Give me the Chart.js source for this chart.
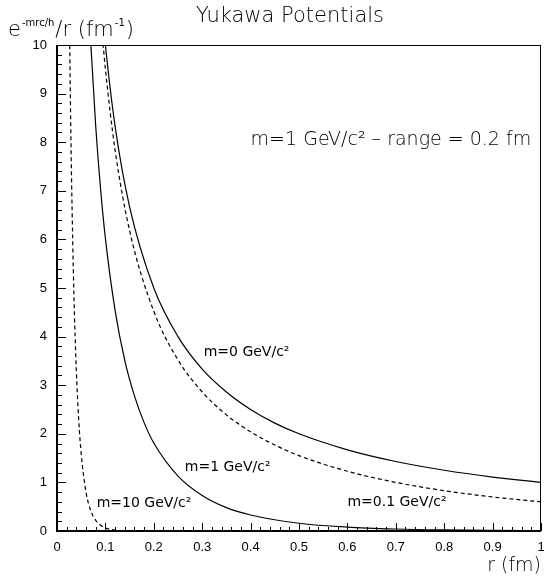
<!DOCTYPE html>
<html>
<head>
<meta charset="utf-8">
<script src="https://cdn.jsdelivr.net/npm/chart.js@4.4.1/dist/chart.umd.min.js"></script>
<style>
  html, body { margin: 0; padding: 0; background: #fff; overflow: hidden; }
  #wrap { width: 546px; height: 577px; }
</style>
</head>
<body>
<div id="wrap"><canvas id="chart"></canvas></div>
<script>
/* ── Yukawa potentials e^(-mrc/h)/r ── */

// m = 0 GeV/c2 (solid)
const R_M0 = [0.09, 0.10, 0.12, 0.15, 0.20, 0.25, 0.30, 0.35, 0.40, 0.45, 0.50, 0.60, 0.70, 0.80, 0.90, 1.00];
const V_M0 = [11.1, 10.0, 8.33, 6.67, 5.00, 4.00, 3.33, 2.86, 2.50, 2.22, 2.00, 1.67, 1.43, 1.25, 1.11, 1.00];

// m = 0.1 GeV/c2 (dashed)
const R_M01 = [0.09, 0.10, 0.12, 0.15, 0.20, 0.25, 0.30, 0.35, 0.40, 0.45, 0.50, 0.60, 0.70, 0.80, 0.90, 1.00];
const V_M01 = [10.6, 9.51, 7.84, 6.18, 4.52, 3.52, 2.86, 2.39, 2.04, 1.77, 1.55, 1.23, 1.00, 0.83, 0.70, 0.60];

// m = 1 GeV/c2 (solid)
const R_M1 = [0.065, 0.07, 0.08, 0.09, 0.10, 0.12, 0.14, 0.16, 0.18, 0.20, 0.25, 0.30, 0.35, 0.40, 0.50, 0.60, 0.70, 0.80, 0.90, 1.00];
const V_M1 = [11.1, 10.0, 8.33, 7.04, 6.02, 4.54, 3.51, 2.78, 2.23, 1.81, 1.13, 0.73, 0.48, 0.33, 0.16, 0.080, 0.041, 0.022, 0.012, 0.006];

// m = 10 GeV/c2 (dashed)
const R_M10 = [0.024, 0.026, 0.028, 0.030, 0.035, 0.040, 0.045, 0.050, 0.060, 0.070, 0.080, 0.090, 0.100, 0.120];
const V_M10 = [12.3, 10.3, 8.63, 7.28, 4.84, 3.29, 2.27, 1.59, 0.80, 0.41, 0.22, 0.12, 0.06, 0.02];

const X_TICKS = [0, 0.1, 0.2, 0.3, 0.4, 0.5, 0.6, 0.7, 0.8, 0.9, 1];
const Y_TICKS = [0, 1, 2, 3, 4, 5, 6, 7, 8, 9, 10];

const toPts = (xs, ys) => xs.map((x, i) => ({ x, y: ys[i] }));

const TEXT_FONT = '"DejaVu Sans", "Liberation Sans", sans-serif';
const TICK_FONT = '"Liberation Sans", Arial, sans-serif';

// ── frame, inward ticks and text labels ───────────────────────
const rootStyle = {
  id: 'rootStyle',
  afterDraw(chart) {
    const { ctx, chartArea: a, scales: { x, y } } = chart;
    ctx.save();
    ctx.strokeStyle = '#000';

    // frame
    ctx.lineWidth = 1;
    ctx.strokeRect(a.left + 0.5, a.top + 0.5, a.right - a.left - 1, a.bottom - a.top - 1);
    ctx.lineWidth = 2;
    ctx.beginPath();
    ctx.moveTo(a.left, a.top); ctx.lineTo(a.left, a.bottom); ctx.lineTo(a.right, a.bottom);
    ctx.stroke();

    // ticks
    ctx.lineWidth = 1;
    ctx.beginPath();
    for (let i = 0; i <= 50; i++) {
      const px = Math.round(x.getPixelForValue(i * 0.02)) + 0.5;
      const len = i % 5 === 0 ? 8 : 4;
      ctx.moveTo(px, a.bottom); ctx.lineTo(px, a.bottom - len);
    }
    for (let i = 0; i <= 50; i++) {
      const py = Math.round(y.getPixelForValue(i * 0.2)) + 0.5;
      const len = i % 5 === 0 ? 9 : 5;
      ctx.moveTo(a.left, py); ctx.lineTo(a.left + len, py);
    }
    ctx.stroke();

    ctx.fillStyle = '#000';
    ctx.textBaseline = 'alphabetic';

    // title
    ctx.font = '300 21px ' + TEXT_FONT;
    ctx.textAlign = 'center';
    ctx.fillText('Yukawa Potentials', 290, 22);

    // y-axis title  e^{-mrc/h}/r (fm^{-1})
    ctx.textAlign = 'left';
    let cx = 8;
    const part = (txt, size, dy, w) => {
      ctx.font = w + ' ' + size + 'px ' + TEXT_FONT;
      ctx.fillText(txt, cx, 36 + dy);
      cx += ctx.measureText(txt).width + 1;
    };
    part('e', 21, 0, 300);
    part('-mrc/h', 10, -10, 400);
    part('/r (fm', 21, 0, 300);
    part('-1', 10, -10, 400);
    part(')', 21, 0, 300);

    // x-axis title
    ctx.font = '300 19px ' + TEXT_FONT;
    ctx.textAlign = 'right';
    ctx.fillText('r (fm)', 541, 571);

    // annotations
    ctx.textAlign = 'left';
    ctx.textBaseline = 'middle';
    const notes = [
      { t: 'm=1 GeV/c\u00b2 \u2013 range = 0.2 fm', r: 0.400, v: 8.05, size: 19 },
      { t: 'm=0 GeV/c\u00b2', r: 0.303, v: 3.68, size: 14 },
      { t: 'm=1 GeV/c\u00b2', r: 0.264, v: 1.30, size: 14 },
      { t: 'm=10 GeV/c\u00b2', r: 0.082, v: 0.56, size: 14 },
      { t: 'm=0.1 GeV/c\u00b2', r: 0.600, v: 0.58, size: 14 },
    ];
    notes.forEach(n => {
      ctx.font = (n.size > 16 ? '300 ' : '400 ') + n.size + 'px ' + TEXT_FONT;
      ctx.fillText(n.t, x.getPixelForValue(n.r), y.getPixelForValue(n.v));
    });
    ctx.restore();
  },
};

const line = (data, dashed) => ({
  data,
  borderColor: '#000',
  borderWidth: 1.2,
  borderDash: dashed ? [4, 3] : [],
  pointRadius: 0,
  fill: false,
  cubicInterpolationMode: 'monotone',
});

new Chart(document.getElementById('chart'), {
  type: 'line',
  data: {
    datasets: [
      line(toPts(R_M0, V_M0), false),
      line(toPts(R_M01, V_M01), true),
      line(toPts(R_M1, V_M1), false),
      line(toPts(R_M10, V_M10), true),
    ],
  },
  options: {
    responsive: true, maintainAspectRatio: false,
    animation: false,
    layout: { padding: { top: 45, right: 5, left: 0, bottom: 0 } },
    plugins: { legend: { display: false }, tooltip: { enabled: false } },
    scales: {
      x: {
        type: 'linear', min: 0, max: 1,
        afterBuildTicks: s => { s.ticks = X_TICKS.map(v => ({ value: v })); },
        afterFit: s => { s.height = 46; s.paddingLeft = 0; s.paddingRight = 0; },
        grid: { display: false, drawTicks: false },
        border: { display: false },
        ticks: {
          autoSkip: false, maxRotation: 0, padding: 9,
          font: { family: TICK_FONT, size: 13 }, color: '#000',
          callback: v => String(+v.toFixed(1)),
        },
      },
      y: {
        type: 'linear', min: 0, max: 10,
        afterBuildTicks: s => { s.ticks = Y_TICKS.map(v => ({ value: v })); },
        afterFit: s => { s.width = 57; s.paddingTop = 0; s.paddingBottom = 0; },
        grid: { display: false, drawTicks: false },
        border: { display: false },
        ticks: {
          autoSkip: false, padding: 10,
          font: { family: TICK_FONT, size: 13 }, color: '#000',
        },
      },
    },
  },
  plugins: [rootStyle],
});
</script>
</body>
</html>
